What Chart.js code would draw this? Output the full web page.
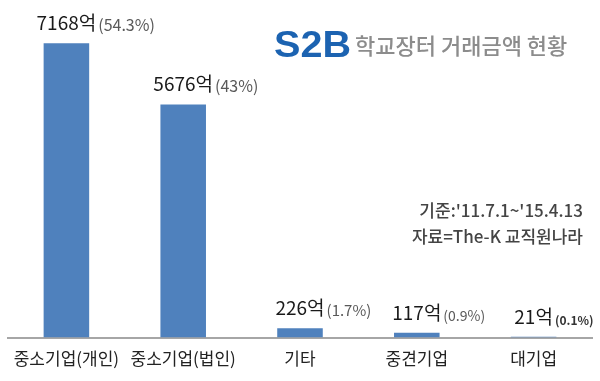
<!DOCTYPE html>
<html>
<head>
<meta charset="utf-8">
<script src="https://cdn.jsdelivr.net/npm/chart.js@4/dist/chart.umd.min.js"></script>
<style>
  html, body { margin: 0; padding: 0; background: #ffffff; }
  #wrap { width: 600px; height: 381px; position: relative; }
</style>
</head>
<body>
<div id="wrap"><canvas id="c" width="600" height="381"></canvas></div>
<script>
// ---- data ----
const categories = ['중소기업(개인)', '중소기업(법인)', '기타', '중견기업', '대기업'];
const amounts = [7168, 5676, 226, 117, 21];
const amountUnit = '억';
const shares = ['(54.3%)', '(43%)', '(1.7%)', '(0.9%)', '(0.1%)'];
const titleBrand = 'S2B';
const titleText = '학교장터 거래금액 현황';
const noteLines = ["기준:'11.7.1~'15.4.13", '자료=The-K 교직원나라'];

// ---- styles ----
const KR = '"Noto Sans CJK KR", "Noto Sans", sans-serif';
const shareFonts = ['400 16px ' + KR, '400 16px ' + KR, '400 15px ' + KR, '400 14px ' + KR, '700 12px ' + KR];

const labelPlugin = {
  id: 'valueLabels',
  afterDatasetsDraw(chart) {
    const ctx = chart.ctx;
    const meta = chart.getDatasetMeta(0);
    ctx.save();
    meta.data.forEach((bar, i) => {
      const main = amounts[i] + amountUnit;
      ctx.font = '400 19px ' + KR;
      ctx.fillStyle = '#1a1a1a';
      ctx.textAlign = 'center';
      ctx.textBaseline = 'alphabetic';
      const yb = bar.y - 13;
      ctx.fillText(main, bar.x, yb);
      const w = ctx.measureText(main).width;
      ctx.font = shareFonts[i];
      ctx.fillStyle = i === 4 ? '#333333' : '#595959';
      ctx.textAlign = 'left';
      ctx.fillText(shares[i], bar.x + w / 2 + 2, yb + 1);
    });
    ctx.restore();
  }
};

const headerPlugin = {
  id: 'header',
  afterDraw(chart) {
    const ctx = chart.ctx;
    ctx.save();
    ctx.textBaseline = 'alphabetic';
    ctx.textAlign = 'left';
    // brand
    ctx.save();
    ctx.translate(274, 57);
    ctx.scale(1.1, 1);
    ctx.font = '700 36px "Liberation Sans", Arial, sans-serif';
    ctx.fillStyle = '#1c63b1';
    ctx.fillText(titleBrand, 0, 0);
    ctx.restore();
    // title
    ctx.font = '500 22px ' + KR;
    ctx.fillStyle = '#8c8c8c';
    ctx.fillText(titleText, 355, 54);
    // notes
    ctx.font = '500 17px ' + KR;
    ctx.fillStyle = '#444444';
    ctx.textAlign = 'right';
    ctx.fillText(noteLines[0], 583, 217);
    ctx.fillText(noteLines[1], 583, 243);
    ctx.restore();
  }
};

new Chart(document.getElementById('c'), {
  type: 'bar',
  data: {
    labels: categories,
    datasets: [{
      data: amounts,
      backgroundColor: '#4f81bd',
      borderWidth: 0,
      barPercentage: 0.39,
      categoryPercentage: 1.0
    }]
  },
  options: {
    responsive: false,
    animation: false,
    events: [],
    layout: { padding: { left: 8, right: 8, top: 9, bottom: 1 } },
    plugins: { legend: { display: false }, tooltip: { enabled: false }, title: { display: false } },
    scales: {
      x: {
        grid: { display: false, drawTicks: false },
        border: { display: true, color: '#a6a6a6', width: 2 },
        ticks: {
          color: '#222222',
          font: { family: KR, size: 17 },
          padding: 11,
          maxRotation: 0,
          autoSkip: false
        }
      },
      y: {
        display: false,
        min: 0,
        max: 8000
      }
    }
  },
  plugins: [labelPlugin, headerPlugin]
});
</script>
</body>
</html>
